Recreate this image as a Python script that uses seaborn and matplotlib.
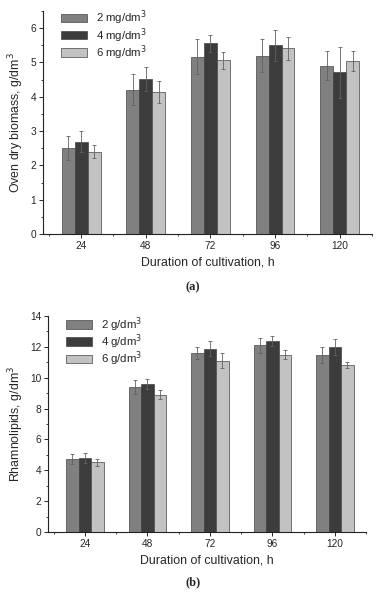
import numpy as np
import pandas as pd
import seaborn as sns
import matplotlib.pyplot as plt
from matplotlib.ticker import MultipleLocator

# Data
hours = ["24", "48", "72", "96", "120"]

biomass_labels = ["2 mg/dm$^3$", "4 mg/dm$^3$", "6 mg/dm$^3$"]
biomass_2 = [2.50, 4.21, 5.17, 5.20, 4.91]
biomass_4 = [2.69, 4.52, 5.56, 5.50, 4.71]
biomass_6 = [2.40, 4.13, 5.06, 5.41, 5.04]
biomass_2_err = [0.35, 0.45, 0.52, 0.48, 0.42]
biomass_4_err = [0.30, 0.35, 0.25, 0.46, 0.74]
biomass_6_err = [0.18, 0.32, 0.24, 0.34, 0.28]

rhamno_labels = ["2 g/dm$^3$", "4 g/dm$^3$", "6 g/dm$^3$"]
rhamno_2 = [4.71, 9.40, 11.60, 12.10, 11.49]
rhamno_4 = [4.79, 9.59, 11.88, 12.38, 11.99]
rhamno_6 = [4.51, 8.90, 11.10, 11.49, 10.82]
rhamno_2_err = [0.32, 0.48, 0.40, 0.48, 0.52]
rhamno_4_err = [0.35, 0.30, 0.50, 0.30, 0.52]
rhamno_6_err = [0.22, 0.30, 0.48, 0.30, 0.20]

palette = ["#808080", "#3c3c3c", "#c2c2c2"]


def build_frame(labels, values, errors):
    rows = []
    for lab, vals, errs in zip(labels, values, errors):
        for h, v, e in zip(hours, vals, errs):
            rows.append({"hour": h, "series": lab, "value": v, "err": e})
    return pd.DataFrame(rows)


def draw_panel(ax, df, labels, ylabel, ymax, major, minor, legend_anchor):
    sns.barplot(
        df, x="hour", y="value", hue="series", hue_order=labels,
        order=hours, palette=palette, width=0.6, errorbar=None,
        edgecolor="#444444", linewidth=0.5, ax=ax,
    )
    # error bars from the drawn bars
    for container, lab in zip(ax.containers, labels):
        errs = df[df["series"] == lab].set_index("hour").loc[hours, "err"].values
        xs = [p.get_x() + p.get_width() / 2 for p in container]
        ys = [p.get_height() for p in container]
        ax.errorbar(xs, ys, yerr=errs, fmt="none", ecolor="#606060",
                    elinewidth=0.6, capsize=1.6, capthick=0.6)

    ax.set_xlim(-0.59, 4.41)
    ax.set_ylim(0, ymax)
    ax.yaxis.set_major_locator(MultipleLocator(major))
    ax.yaxis.set_minor_locator(MultipleLocator(minor))
    ax.set_xticks(np.arange(-0.5, 4.6, 1.0), minor=True)
    sns.despine(ax=ax)
    ax.tick_params(axis="both", which="major", direction="out", length=3, width=0.7,
                   labelsize=7.3, pad=2)
    ax.tick_params(axis="both", which="minor", direction="out", length=1.6, width=0.6)
    for s in ["left", "bottom"]:
        ax.spines[s].set_linewidth(0.8)
        ax.spines[s].set_color("#222222")
    ax.set_xlabel("Duration of cultivation, h", fontsize=8.9, labelpad=4)
    ax.set_ylabel(ylabel, fontsize=8.9, labelpad=3)
    ax.legend(loc="upper left", bbox_to_anchor=legend_anchor, frameon=False,
              fontsize=8.2, handlelength=2.3, handleheight=0.75,
              labelspacing=-0.12, handletextpad=0.8, borderaxespad=0)


sns.set_style("ticks")
plt.rcParams["font.family"] = ["Liberation Sans", "DejaVu Sans"]

fig = plt.figure(figsize=(3.86, 5.93), dpi=100)
ax1 = fig.add_axes([43 / 386, 1 - 234 / 593, 329 / 386, 223 / 593])
ax2 = fig.add_axes([48 / 386, 1 - 532 / 593, 318 / 386, 216 / 593])

df_a = build_frame(biomass_labels, [biomass_2, biomass_4, biomass_6],
                   [biomass_2_err, biomass_4_err, biomass_6_err])
df_b = build_frame(rhamno_labels, [rhamno_2, rhamno_4, rhamno_6],
                   [rhamno_2_err, rhamno_4_err, rhamno_6_err])

draw_panel(ax1, df_a, biomass_labels, "Oven dry biomass, g/dm$^3$", 6.5, 1, 0.5, (0.04, 1.03))
draw_panel(ax2, df_b, rhamno_labels, "Rhamnolipids, g/dm$^3$", 14, 2, 1, (0.041, 1.025))

fig.text(0.5, 1 - 287 / 593, "(a)", ha="center", va="center", fontsize=9,
         fontweight="bold", family="Liberation Serif")
fig.text(0.5, 1 - 582 / 593, "(b)", ha="center", va="center", fontsize=9,
         fontweight="bold", family="Liberation Serif")

fig.savefig("out.png", dpi=100)
